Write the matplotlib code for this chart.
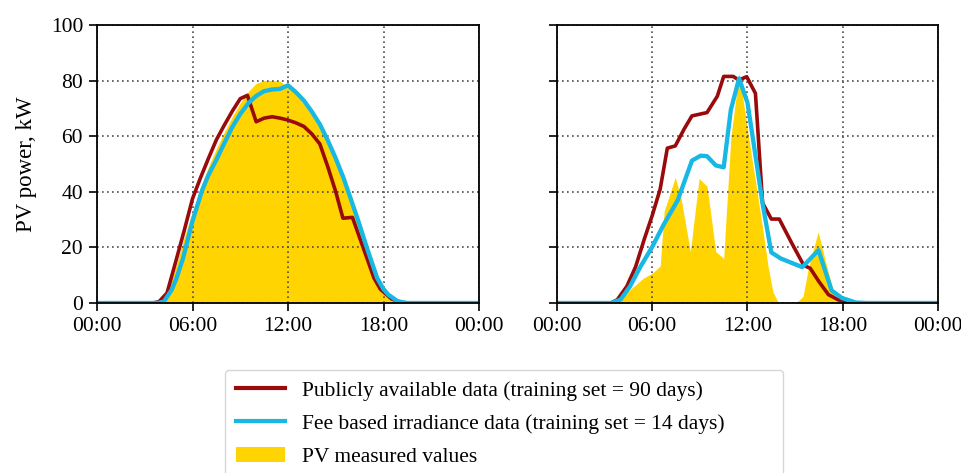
import matplotlib
matplotlib.use("Agg")
import matplotlib.pyplot as plt
from matplotlib.patches import Patch
from matplotlib.lines import Line2D

plt.rcParams['font.family'] = ['Liberation Serif', 'DejaVu Serif']

# ---------------- data (hours of day, kW) ----------------
# Left panel
left_red_t = [0, 3.5, 3.9, 4.4, 5.0, 5.5, 6.0, 6.5, 7.0, 7.5, 8.0, 8.5, 9.0, 9.45, 10.0, 10.5, 11.0,
              11.5, 12.0, 12.5, 13.0, 13.5, 14.0, 14.5, 15.0, 15.45, 16.05, 16.5, 17.0, 17.4, 17.8,
              18.5, 19.2, 24]
left_red_v = [0, 0, 0.5, 3.6, 16, 26.5, 37.5, 45, 52, 58.7, 64, 69, 73.5, 74.7, 65.2, 66.5, 67,
              66.5, 65.8, 64.8, 63.5, 60.8, 57.2, 49, 40, 30.5, 30.8, 23.5, 15.5, 9, 5,
              1.5, 0, 0]

left_cyan_t = [0, 3.8, 4.2, 4.7, 5.0, 5.4, 6.0, 6.6, 7.0, 7.5, 8.0, 8.5, 9.0, 9.5, 10.0, 10.5, 11.0,
               11.5, 12.0, 12.5, 13.0, 13.5, 14.0, 14.5, 15.0, 15.5, 16.0, 16.4, 17.0, 17.6, 18.0,
               18.3, 18.9, 19.5, 24]
left_cyan_v = [0, 0, 0.5, 4.8, 9, 16, 29.5, 40.5, 46, 51.5, 57.5, 63.3, 68, 71.8, 74.5, 76.2, 76.8,
               77, 78.3, 75.8, 72.8, 68.8, 64.3, 58.5, 52, 44.8, 36.5, 29.8, 19.1, 9, 5,
               3, 0.6, 0, 0]

left_pv_t = [0, 3.7, 4.2, 4.6, 5.0, 5.5, 6.0, 6.5, 7.0, 7.5, 8.0, 8.5, 9.0, 9.5, 10.0, 10.5, 11.0,
             11.5, 12.0, 12.5, 13.0, 13.5, 14.0, 14.5, 15.0, 15.5, 16.0, 16.5, 17.0, 17.5, 18.0,
             18.5, 18.9, 24]
left_pv_v = [0, 0, 2.5, 7, 14, 24, 33, 41.5, 49, 55.5, 61.5, 67, 72, 76, 79, 80, 80,
             79.8, 77.5, 75, 71.5, 67.5, 63, 57.5, 50.5, 43.5, 35.5, 27, 18, 9.5, 4,
             1.2, 0, 0]

# Right panel
right_red_t = [0, 3.4, 3.8, 4.4, 4.95, 5.5, 6.0, 6.5, 6.95, 7.45, 8.0, 8.5, 9.45, 10.1, 10.5, 11.1,
               11.45, 11.95, 12.5, 12.95, 13.5, 14.0, 14.8, 15.55, 15.95, 16.5, 17.1, 17.7, 18.2,
               18.6, 24]
right_red_v = [0, 0, 1.2, 6, 13, 23, 31.5, 41, 55.7, 56.5, 62.5, 67.3, 68.5, 74.4, 81.5, 81.5,
               80.2, 81.4, 75.4, 36, 30.2, 30.2, 21.4, 13.5, 12.5, 7.7, 3, 1.2, 0.4,
               0, 0]

right_cyan_t = [0, 3.4, 4.0, 4.6, 5.25, 6.0, 6.7, 7.6, 8.5, 9.05, 9.45, 10.0, 10.5, 10.95, 11.47,
                12.0, 12.45, 12.95, 13.5, 14.1, 15.45, 16.47, 17.3, 17.95, 18.8, 19.5, 24]
right_cyan_v = [0, 0, 1.2, 6, 13, 20.2, 28, 36.9, 51.2, 53, 52.8, 49.5, 48.8, 69.5, 80.8,
                72, 55, 35.7, 18.2, 16, 12.9, 19, 4.5, 1.8, 0.2, 0, 0]

right_pv_t = [0, 3.8, 4.6, 5.45, 6.0, 6.5, 6.75, 7.45, 7.8, 8.4, 8.95, 9.45, 10.0, 10.5, 10.95,
              11.47, 12.3, 12.5, 12.95, 13.3, 13.6, 13.95, 15.05, 15.5, 15.85, 16.45, 17.1,
              17.5, 17.85, 24]
right_pv_v = [0, 0, 4.8, 9, 10.7, 13.3, 33, 45.2, 38, 18.5, 44.8, 42, 18.5, 16, 59.5,
              82.7, 51, 44, 27, 13, 4, 0, 0, 2.4, 13, 25.6, 10.7,
              2.4, 0, 0]

xtick_pos = [0, 6, 12, 18, 24]
xtick_labels = ['00:00', '06:00', '12:00', '18:00', '00:00']
ytick_pos = [0, 20, 40, 60, 80, 100]

legend_labels = ['Publicly available data (training set = 90 days)',
                 'Fee based irradiance data (training set = 14 days)',
                 'PV measured values']

RED = '#990a0a'
CYAN = '#17b8e3'
YELLOW = '#ffd400'

# ---------------- figure ----------------
W, H = 962, 473
fig = plt.figure(figsize=(W / 100, H / 100), dpi=100)

def box(x0, x1, y0, y1):
    return [x0 / W, 1 - y1 / H, (x1 - x0) / W, (y1 - y0) / H]

axL = fig.add_axes(box(97, 479, 25, 303))
axR = fig.add_axes(box(557, 938, 25, 303))

panels = [
    (axL, left_pv_t, left_pv_v, left_red_t, left_red_v, left_cyan_t, left_cyan_v),
    (axR, right_pv_t, right_pv_v, right_red_t, right_red_v, right_cyan_t, right_cyan_v),
]

for ax, pt, pv, rt, rv, ct, cv in panels:
    ax.fill_between(pt, pv, 0, color=YELLOW, linewidth=0, zorder=1)
    ax.plot(rt, rv, color=RED, lw=2.6, zorder=3)
    ax.plot(ct, cv, color=CYAN, lw=3.1, zorder=4)
    ax.set_xlim(0, 24)
    ax.set_ylim(0, 100)
    ax.set_xticks(xtick_pos)
    ax.set_xticklabels(xtick_labels)
    ax.set_yticks(ytick_pos)
    ax.set_axisbelow(False)
    ax.grid(True, linestyle=(0, (1, 2.0)), color='0.3', lw=1.2)
    ax.tick_params(direction='out', length=6, width=1.2, labelsize=15.5, pad=4, colors='black')
    for s in ax.spines.values():
        s.set_linewidth(1.3)
        s.set_color('black')
        s.set_zorder(5)

axL.set_ylabel('PV power, kW', fontsize=16.5, labelpad=10)
axR.tick_params(labelleft=False)

handles = [Line2D([], [], color=RED, lw=3),
           Line2D([], [], color=CYAN, lw=3),
           Patch(facecolor=YELLOW, edgecolor='none')]
fig.legend(handles, legend_labels, loc='upper left',
           bbox_to_anchor=(225 / W, 0, (783 - 225) / W, 1 - 370 / H),
           mode='expand', fontsize=15.5, handlelength=2.3, handletextpad=0.8,
           labelspacing=0.6, borderpad=0.5, borderaxespad=0, frameon=True,
           edgecolor='0.8', fancybox=True)

fig.savefig('out.png', dpi=100)
